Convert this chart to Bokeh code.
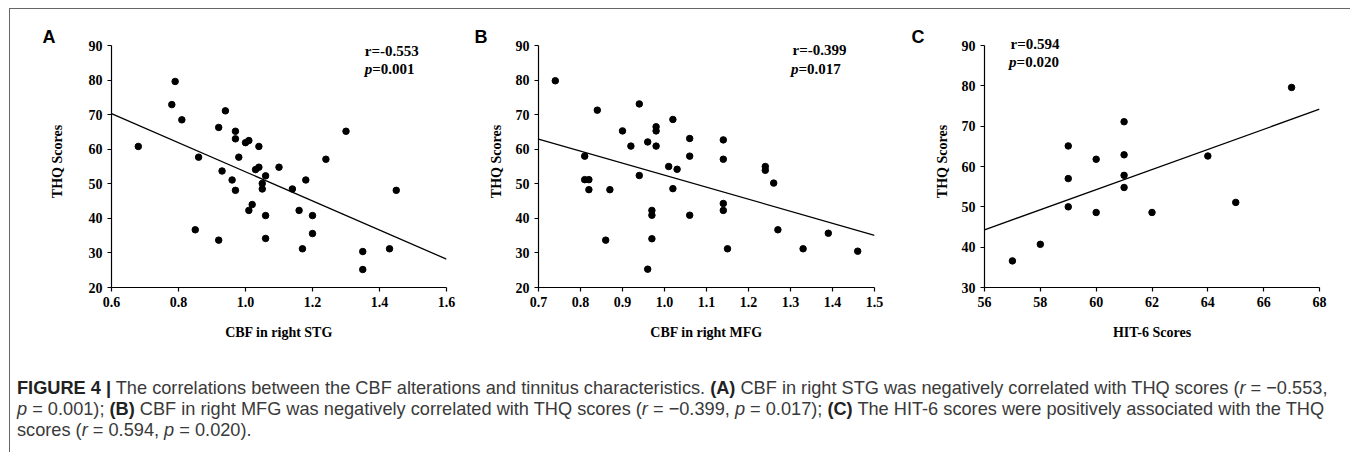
from bokeh.plotting import figure
from bokeh.models import Range1d, FixedTicker, PrintfTickFormatter, Label, Div
from bokeh.layouts import row, column
from bokeh.embed import file_html
from bokeh.resources import INLINE

# ---------------- data ----------------
A_x = [0.68, 0.79, 0.78, 0.81, 0.86, 0.85, 0.92, 0.94, 0.93, 0.96,
       0.97, 0.97, 0.98, 0.97, 1.00, 1.01, 1.04, 1.03, 1.04, 1.06,
       1.05, 1.05, 1.02, 1.01, 1.06, 1.10, 1.14, 1.16, 1.18, 1.20,
       1.24, 1.30, 1.45, 0.92, 1.06, 1.20, 1.17, 1.35, 1.35, 1.43]
A_y = [60.8, 79.6, 72.9, 68.5, 57.7, 36.7, 66.3, 71.1, 53.7, 51.1,
       65.2, 63.0, 57.7, 48.1, 61.9, 62.5, 60.8, 54.1, 54.8, 52.3,
       50.1, 48.5, 44.0, 42.3, 40.8, 54.8, 48.5, 42.3, 51.1, 40.8,
       57.1, 65.2, 48.1, 33.7, 34.2, 35.6, 31.2, 30.4, 25.2, 31.2]
A_fit_x = [0.6, 1.6]
A_fit_y = [70.3, 28.2]

B_x = [0.74, 0.84, 0.94, 0.90, 0.92, 0.96, 0.98, 0.98, 0.98, 1.02,
       0.94, 0.81, 0.81, 0.82, 0.82, 0.87, 1.01, 1.03, 1.02, 1.06,
       1.06, 1.14, 1.14, 1.14, 1.14, 0.97, 0.97, 1.06, 1.24, 1.24,
       1.26, 0.86, 0.97, 0.96, 1.15, 1.27, 1.33, 1.39, 1.46]
B_y = [79.8, 71.3, 73.1, 65.3, 60.9, 62.1, 66.5, 65.3, 60.9, 68.6,
       52.4, 58.0, 51.2, 51.2, 48.3, 48.3, 55.0, 54.2, 48.6, 63.1,
       58.0, 62.7, 57.1, 44.3, 42.3, 42.3, 40.9, 40.9, 55.0, 53.9,
       50.2, 33.7, 34.1, 25.3, 31.2, 36.7, 31.2, 35.7, 30.5]
B_fit_x = [0.7, 1.5]
B_fit_y = [62.9, 35.1]

C_x = [67, 59, 59, 59, 60, 60, 61, 61, 61, 61, 62, 64, 65, 58, 57]
C_y = [79.6, 65.1, 57.0, 50.0, 61.8, 48.6, 71.1, 62.9, 57.8, 54.8,
       48.6, 62.6, 51.1, 40.7, 36.6]
C_fit_x = [56, 68]
C_fit_y = [44.3, 74.2]

A_xticks = [0.6, 0.8, 1.0, 1.2, 1.4, 1.6]
B_xticks = [0.7, 0.8, 0.9, 1.0, 1.1, 1.2, 1.3, 1.4, 1.5]
C_xticks = [56, 58, 60, 62, 64, 66, 68]
AB_yticks = [20, 30, 40, 50, 60, 70, 80, 90]
C_yticks = [30, 40, 50, 60, 70, 80, 90]

SERIF = "Liberation Serif"
AXIS_H = 242          # pixel height of the drawn y axis (bottom .. 90)
HEADROOM = 10         # free pixels in the frame above the 90 tick
FRAME_H = AXIS_H + HEADROOM
MB_TOP = 26


def slabel(p, sx, sy, text, font, style, size, x_offset=0):
    p.add_layout(Label(x=sx, y=sy, x_units="screen", y_units="screen", x_offset=x_offset,
                       text=text, text_font=font, text_font_style=style,
                       text_font_size=size, text_color="black",
                       text_baseline="middle", text_align="left", level="overlay"))


def panel(xs, ys, fx, fy, xr, yr, xticks, yticks, xfmt, xlabel, letter, r_txt, p_txt,
          width, mb_left, mb_right, ystand, letter_off, r_pos, p_pos):
    y0, y1 = yr
    y_top = y1 + (y1 - y0) * HEADROOM / AXIS_H
    p = figure(width=width, height=360, output_backend="svg", toolbar_location=None,
               x_range=Range1d(*xr), y_range=Range1d(y0, y_top),
               min_border_left=mb_left, min_border_right=mb_right,
               min_border_top=MB_TOP, min_border_bottom=360 - MB_TOP - FRAME_H)
    p.outline_line_color = None
    p.xgrid.visible = False
    p.ygrid.visible = False
    p.background_fill_color = "white"
    p.border_fill_color = "white"
    p.line(fx, fy, line_color="black", line_width=1.3)
    p.scatter(xs, ys, size=6.5, color="black")
    p.xaxis.ticker = FixedTicker(ticks=xticks)
    p.yaxis.ticker = FixedTicker(ticks=yticks)
    p.xaxis.formatter = PrintfTickFormatter(format=xfmt)
    p.yaxis.formatter = PrintfTickFormatter(format="%d")
    p.yaxis.bounds = (y0, y1)
    for ax in p.axis:
        ax.axis_line_color = "black"
        ax.axis_line_width = 1.2
        ax.major_tick_line_color = "black"
        ax.major_tick_line_width = 1.2
        ax.major_tick_out = 4
        ax.major_tick_in = 0
        ax.minor_tick_line_color = None
        ax.major_label_text_font = SERIF
        ax.major_label_text_font_style = "bold"
        ax.major_label_text_font_size = "14px"
        ax.major_label_text_color = "black"
        ax.axis_label_text_font = SERIF
        ax.axis_label_text_font_style = "bold"
        ax.axis_label_text_font_size = "14px"
        ax.axis_label_text_color = "black"
    p.xaxis.axis_label = xlabel
    p.xaxis.axis_label_standoff = 15
    p.yaxis.axis_label = "THQ Scores"
    p.yaxis.axis_label_standoff = ystand

    p.title.text = letter
    p.title.align = "left"
    p.title.offset = letter_off
    p.title.vertical_align = "bottom"
    p.title.standoff = -22
    p.title.text_font = "Liberation Sans"
    p.title.text_font_style = "bold"
    p.title.text_font_size = "18px"
    p.title.text_color = "black"

    slabel(p, r_pos[0], r_pos[1], r_txt, SERIF, "bold", "15px")
    slabel(p, p_pos[0], p_pos[1], "p", SERIF, "bold italic", "15px")
    slabel(p, p_pos[0], p_pos[1], p_txt, SERIF, "bold", "15px", x_offset=7.5)
    return p


pA = panel(A_x, A_y, A_fit_x, A_fit_y, (0.6, 1.6), (20, 90), A_xticks, AB_yticks, "%.1f",
           "CBF in right STG", "A", "r=-0.553", "=0.001",
           451, 101, 15, 21, -69,
           (253.3, 236.3), (253.3, 218.8))
pB = panel(B_x, B_y, B_fit_x, B_fit_y, (0.7, 1.5), (20, 90), B_xticks, AB_yticks, "%.1f",
           "CBF in right MFG", "B", "r=-0.399", "=0.017",
           440, 77, 27, 9, -64,
           (254.0, 237.7), (252.4, 219.0))
pC = panel(C_x, C_y, C_fit_x, C_fit_y, (56, 68), (30, 90), C_xticks, C_yticks, "%d",
           "HIT-6 Scores", "C", "r=0.594", "=0.020",
           449, 83, 31, 9, -73,
           (26.0, 243.4), (24.6, 226.0))

B = '<b style="color:#222; font-family: \'Liberation Sans Narrow\', \'Liberation Sans\', sans-serif;">'
caption_html = (
    '<div style="font-family: \'Liberation Sans\', Arial, sans-serif; font-size: 18.2px; '
    'line-height: 21px; color: #3a3a3a; white-space: nowrap; padding-left: 7px; padding-top: 9px;">'
    + B + 'FIGURE 4 |</b> The correlations between the CBF alterations and tinnitus '
    'characteristics. ' + B + '(A)</b> CBF in right STG was negatively correlated with THQ '
    'scores (<i>r</i> = \u22120.553,<br>'
    '<i>p</i> = 0.001); ' + B + '(B)</b> CBF in right MFG was negatively correlated with THQ '
    'scores (<i>r</i> = \u22120.399, <i>p</i> = 0.017); ' + B + '(C)</b> The HIT-6 scores were '
    'positively associated with the THQ<br>'
    'scores (<i>r</i> = 0.594, <i>p</i> = 0.020).'
    '</div>'
)
cap = Div(text=caption_html, width=1340, height=80, margin=(0, 0, 0, 0))

frame_v = Div(text="", width=1, height=444, margin=(0, 0, 0, 0),
              styles={"background-color": "#666"})
frame_h = Div(text="", width=1340, height=1, margin=(0, 0, 0, 0),
              styles={"background-color": "#666"})

content = column(frame_h, row(pA, pB, pC), cap)
layout = row(frame_v, content, margin=(8, 0, 0, 9))

open("out.html", "w").write(file_html(layout, INLINE))
